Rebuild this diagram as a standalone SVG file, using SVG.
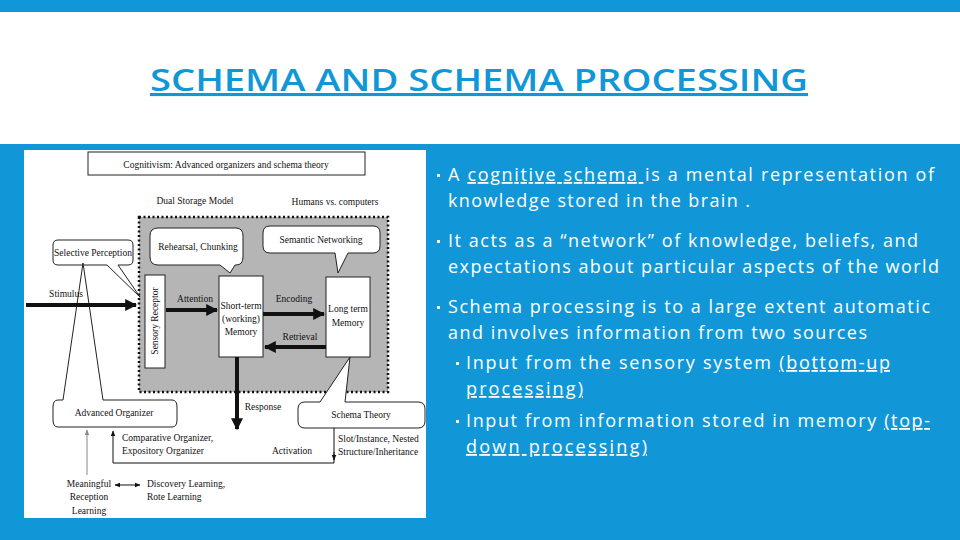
<svg xmlns="http://www.w3.org/2000/svg" width="960" height="540" viewBox="0 0 960 540">
<defs>
<style>
.d{font-family:"Liberation Serif",serif;font-size:9.5px;fill:#111}
.b{font-family:"Open Sans",Lato,sans-serif;font-size:18px;fill:#fff}
.bx{fill:#fff;stroke:#222;stroke-width:1}
.ln{stroke:#111;stroke-width:1;fill:none}
.th{stroke:#111;stroke-width:4;fill:none}
</style>
<marker id="ah" viewBox="0 0 10 10" refX="9" refY="5" markerWidth="3" markerHeight="3" orient="auto-start-reverse"><path d="M0,0L10,5L0,10z" fill="#111"/></marker>
<marker id="as" viewBox="0 0 10 10" refX="9" refY="5" markerWidth="6" markerHeight="6" orient="auto-start-reverse"><path d="M0,1L10,5L0,9z" fill="#111"/></marker>
<marker id="ag" viewBox="0 0 10 10" refX="9" refY="5" markerWidth="6" markerHeight="6" orient="auto"><path d="M0,1L10,5L0,9z" fill="#888"/></marker>
</defs>
<rect width="960" height="540" fill="#1197D8"/>
<rect x="0" y="12" width="960" height="132" fill="#fff"/>
<g id="title"><text x="150" y="91" font-family="'Open Sans',Lato,sans-serif" font-weight="600" font-size="31" fill="#1197D8" text-decoration="underline" textLength="658" lengthAdjust="spacingAndGlyphs">SCHEMA AND SCHEMA PROCESSING</text></g>

<g id="figure">
<rect x="24" y="150" width="402" height="368" fill="#fff"/>
<g id="figtitle"><rect class="bx" x="88" y="152" width="277" height="23"/><text class="d" x="226" y="168" text-anchor="middle" font-size="11">Cognitivism: Advanced organizers and schema theory</text></g>
<text class="d" x="195" y="204" text-anchor="middle">Dual Storage Model</text>
<text class="d" x="335" y="205" text-anchor="middle">Humans vs. computers</text>
<rect id="region" x="139" y="217" width="249" height="175" fill="#b5b5b5" stroke="#111" stroke-width="2.5" stroke-dasharray="2,2.5"/>

<g id="selective"><path class="bx" d="M58,240H128Q133,240 133,245V260Q133,265 128,265H118L140,297L107,265H58Q53,265 53,260V245Q53,240 58,240Z"/><text class="d" x="93" y="256" text-anchor="middle" font-size="8.5">Selective Perception</text></g>
<g id="rehearsal"><path class="bx" d="M158,228H236Q243,228 243,236V257Q243,265 236,265H235L230,273L220,265H158Q150,265 150,257V236Q150,228 158,228Z"/><text class="d" x="198" y="250" text-anchor="middle">Rehearsal, Chunking</text></g>
<g id="semantic"><path class="bx" d="M270,226H373Q380,226 380,233V246Q380,253 373,253H348L338,273L335,253H270Q263,253 263,246V233Q263,226 270,226Z"/><text class="d" x="321" y="243" text-anchor="middle">Semantic Networking</text></g>

<g id="sensory"><rect class="bx" x="145" y="275" width="20" height="93"/><text class="d" transform="translate(158,321) rotate(-90)" text-anchor="middle">Sensory Receptor</text></g>
<g id="stm"><rect class="bx" x="219" y="276" width="44" height="81"/><text class="d" x="241" y="309" text-anchor="middle" font-size="9">Short-term</text><text class="d" x="241" y="322" text-anchor="middle" font-size="9">(working)</text><text class="d" x="241" y="335" text-anchor="middle" font-size="9">Memory</text></g>
<g id="ltm"><rect class="bx" x="326" y="277" width="44" height="80"/><text class="d" x="348" y="312" text-anchor="middle" font-size="9">Long term</text><text class="d" x="348" y="326" text-anchor="middle" font-size="9">Memory</text></g>

<g id="advorg"><path class="bx" d="M63,400L83,263L103,400H172Q177,400 177,407V420Q177,427 172,427H58Q53,427 53,420V407Q53,400 58,400Z"/><text class="d" x="114" y="416" text-anchor="middle">Advanced Organizer</text></g>
<g id="schema"><path class="bx" d="M320,402L350,357L345,402H418Q425,402 425,409V421Q425,428 418,428H305Q298,428 298,421V409Q298,402 305,402Z"/><text class="d" x="361" y="418" text-anchor="middle">Schema Theory</text></g>

<g id="connectors">
<line class="th" x1="26" y1="305" x2="136" y2="305" marker-end="url(#ah)"/>
<line class="th" x1="166" y1="310" x2="217" y2="310" marker-end="url(#ah)"/>
<line class="th" x1="263" y1="314" x2="324" y2="314" marker-end="url(#ah)"/>
<line class="th" x1="326" y1="347" x2="265" y2="347" marker-end="url(#ah)"/>
<line class="th" x1="237" y1="357" x2="237" y2="429" marker-end="url(#ah)"/>
<polyline class="ln" points="334,428 334,463 113,463 113,431" marker-end="url(#as)"/>
<line class="ln" x1="334" y1="452" x2="334" y2="460" marker-end="url(#as)"/>
<line x1="87" y1="475" x2="87" y2="430" stroke="#888" stroke-width="1" marker-end="url(#ag)"/>
<line class="ln" x1="115" y1="485" x2="140" y2="485" stroke-width="1.5" marker-start="url(#as)" marker-end="url(#as)"/>
</g>
<text class="d" x="66" y="297" text-anchor="middle">Stimulus</text>
<text class="d" x="195" y="302" text-anchor="middle">Attention</text>
<text class="d" x="294" y="302" text-anchor="middle">Encoding</text>
<text class="d" x="300" y="340" text-anchor="middle">Retrieval</text>
<text class="d" x="263" y="410" text-anchor="middle">Response</text>
<text class="d" x="122" y="441">Comparative Organizer,</text>
<text class="d" x="122" y="454">Expository Organizer</text>
<text class="d" x="292" y="454" text-anchor="middle">Activation</text>
<text class="d" x="338" y="442">Slot/Instance, Nested</text>
<text class="d" x="338" y="455">Structure/Inheritance</text>
<text class="d" x="89" y="487" text-anchor="middle">Meaningful</text>
<text class="d" x="89" y="500" text-anchor="middle">Reception</text>
<text class="d" x="89" y="514" text-anchor="middle">Learning</text>
<text class="d" x="147" y="487">Discovery Learning,</text>
<text class="d" x="147" y="500">Rote Learning</text>
</g>

<g id="bullets">
<g fill="#fff"><rect x="437" y="174" width="3" height="3"/><rect x="437" y="240" width="3" height="3"/><rect x="437" y="306" width="3" height="3"/><rect x="456" y="362" width="3" height="3"/><rect x="456" y="420" width="3" height="3"/></g>
<text class="b" x="448" y="181" textLength="486">A <tspan text-decoration="underline">cognitive schema </tspan>is a mental representation of</text>
<text class="b" x="448" y="207" textLength="302">knowledge stored in the brain .</text>
<text class="b" x="448" y="247" textLength="470">It acts as a “network” of knowledge, beliefs, and</text>
<text class="b" x="448" y="273" textLength="491">expectations about particular aspects of the world</text>
<text class="b" x="448" y="313" textLength="482">Schema processing is to a large extent automatic</text>
<text class="b" x="448" y="339" textLength="419">and involves information from two sources</text>
<text class="b" x="466" y="369" textLength="424">Input from the sensory system <tspan text-decoration="underline">(bottom-up</tspan></text>
<text class="b" x="466" y="395" text-decoration="underline" textLength="117">processing)</text>
<text class="b" x="466" y="427" textLength="464">Input from information stored in memory <tspan text-decoration="underline">(top-</tspan></text>
<text class="b" x="466" y="453" text-decoration="underline" textLength="181">down processing)</text>
</g>
</svg>
